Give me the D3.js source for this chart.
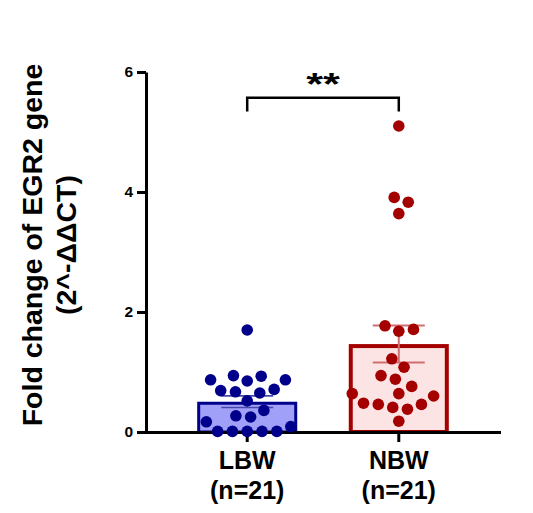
<!DOCTYPE html>
<html>
<head>
<meta charset="utf-8">
<script src="https://cdn.jsdelivr.net/npm/d3@7"></script>
<style>
  body { margin: 0; background: #fff; }
  svg { display: block; }
  text { font-family: "Liberation Sans", Arial, sans-serif; font-weight: bold; fill: #000; }
</style>
</head>
<body>
<svg id="chart" width="533" height="513"></svg>
<script>
// ---------------- data ----------------
const categories = ["LBW", "NBW"];
const sampleSizes = ["(n=21)", "(n=21)"];
const lbwValues = [0.01, 0.01, 0.01, 0.01, 0.01, 0.09, 0.17, 0.25, 0.27, 0.36, 0.52,
                   0.65, 0.67, 0.69, 0.71, 0.85, 0.87, 0.87, 0.93, 0.94, 1.70];
const nbwValues = [0.18, 0.38, 0.41, 0.46, 0.46, 0.48, 0.60, 0.64, 0.64, 0.76, 0.88,
                   0.94, 1.08, 1.22, 1.68, 1.71, 1.77, 3.64, 3.83, 3.91, 5.10];
const yTicks = [0, 2, 4, 6];
const yDomain = [0, 6];
const significance = "**";
const yTitleLines = ["Fold change of EGR2 gene", "(2^-\u0394\u0394CT)"];

// ---------------- styles ----------------
const styles = {
  LBW: { fill: "#a0a0f8", stroke: "#00008B", strokeW: 3, dot: "#00008B", err: "#4848aa", errW: 1.6 },
  NBW: { fill: "#fde4e4", stroke: "#A50000", strokeW: 4, dot: "#A50000", err: "#cf6f6f", errW: 2 }
};
const groups = [
  { name: categories[0], n: sampleSizes[0], values: lbwValues },
  { name: categories[1], n: sampleSizes[1], values: nbwValues }
];
groups.forEach(g => {
  g.mean = d3.mean(g.values);
  g.sem = d3.deviation(g.values) / Math.sqrt(g.values.length);
});

// ---------------- scales ----------------
const svg = d3.select("#chart");
const y = d3.scaleLinear().domain(yDomain).range([432, 72]);
const x = d3.scaleBand().domain(categories).range([145.5, 500.5])
  .paddingInner(0.34).paddingOuter(0.341);
const cx = c => x(c) + x.bandwidth() / 2;

// ---------------- bars ----------------
svg.append("g").selectAll("rect").data(groups).join("rect")
  .attr("x", d => x(d.name) + styles[d.name].strokeW / 2)
  .attr("width", d => x.bandwidth() - styles[d.name].strokeW)
  .attr("y", d => y(d.mean) + styles[d.name].strokeW / 2)
  .attr("height", d => y(0) - y(d.mean) - styles[d.name].strokeW / 2)
  .attr("fill", d => styles[d.name].fill)
  .attr("stroke", d => styles[d.name].stroke)
  .attr("stroke-width", d => styles[d.name].strokeW);

// ---------------- axes ----------------
const yAxis = svg.append("g").attr("transform", "translate(146,0)")
  .call(d3.axisLeft(y).tickValues(yTicks).tickFormat(d3.format("d"))
    .tickSize(9).tickSizeOuter(0).tickPadding(4));
yAxis.select(".domain").attr("stroke-width", 3);
yAxis.selectAll(".tick line").attr("stroke-width", 3);
yAxis.selectAll(".tick text").attr("font-size", 15.5)
  .attr("font-family", "Liberation Sans, Arial, sans-serif").attr("font-weight", "bold");

const xAxis = svg.append("g").attr("transform", "translate(0,432)")
  .call(d3.axisBottom(x).tickSize(10).tickSizeOuter(0).tickFormat(""));
xAxis.select(".domain").attr("stroke-width", 3);
xAxis.selectAll(".tick line").attr("stroke-width", 3);

// category labels
const lab = svg.append("g");
groups.forEach(g => {
  lab.append("text").attr("x", cx(g.name)).attr("y", 468.5)
    .attr("text-anchor", "middle").attr("font-size", 25).text(g.name);
  lab.append("text").attr("x", cx(g.name)).attr("y", 498.5)
    .attr("text-anchor", "middle").attr("font-size", 25).text(g.n);
});

// y title
svg.append("text").attr("transform", "translate(42,245) rotate(-90)")
  .attr("text-anchor", "middle").attr("font-size", 28.5).text(yTitleLines[0]);
svg.append("text").attr("transform", "translate(75.5,245) rotate(-90)")
  .attr("text-anchor", "middle").attr("font-size", 28.5).text(yTitleLines[1]);

// ---------------- error bars ----------------
const capHalf = 26;
const eb = svg.append("g");
groups.forEach(g => {
  const s = styles[g.name], c = cx(g.name);
  const top = y(g.mean + g.sem), bot = y(g.mean - g.sem);
  eb.append("line").attr("x1", c).attr("x2", c).attr("y1", top).attr("y2", bot)
    .attr("stroke", s.err).attr("stroke-width", s.errW);
  [top, bot].forEach(yy => eb.append("line").attr("x1", c - capHalf).attr("x2", c + capHalf)
    .attr("y1", yy).attr("y2", yy).attr("stroke", s.err).attr("stroke-width", s.errW));
});

// ---------------- beeswarm dots ----------------
function swarm(values, D) {
  const placed = [];
  const sorted = values.slice().sort((a, b) => a - b);
  sorted.forEach(v => {
    const yy = y(v);
    const iv = placed.filter(p => Math.abs(p.y - yy) < D).map(p => {
      const h = Math.sqrt(D * D - (p.y - yy) ** 2);
      return [p.x - h, p.x + h];
    });
    const cands = [0];
    iv.forEach(([a, b]) => { cands.push(a, b); });
    const ok = cands.filter(c => iv.every(([a, b]) => c <= a + 1e-6 || c >= b - 1e-6));
    ok.sort((a, b) => Math.abs(a) - Math.abs(b) || b - a);
    placed.push({ v, x: ok[0], y: yy });
  });
  return placed;
}
const dotR = 5.8;
groups.forEach(g => {
  const pts = swarm(g.values, 14.8);
  svg.append("g").selectAll("circle").data(pts).join("circle")
    .attr("cx", d => cx(g.name) + d.x)
    .attr("cy", d => y(d.v))
    .attr("r", dotR)
    .attr("fill", styles[g.name].dot);
});

// ---------------- significance bracket ----------------
const bTop = y(5.57), bLeg = y(5.34);
const x1 = cx(categories[0]), x2 = cx(categories[1]);
svg.append("path")
  .attr("d", `M${x1},${bLeg}V${bTop}H${x2}V${bLeg}`)
  .attr("fill", "none").attr("stroke", "#000").attr("stroke-width", 2.5);
svg.append("text")
  .attr("transform", `translate(${(x1 + x2) / 2},${bTop - 3}) scale(1.35,1)`)
  .attr("text-anchor", "middle").attr("font-size", 32).text(significance);
</script>
</body>
</html>
